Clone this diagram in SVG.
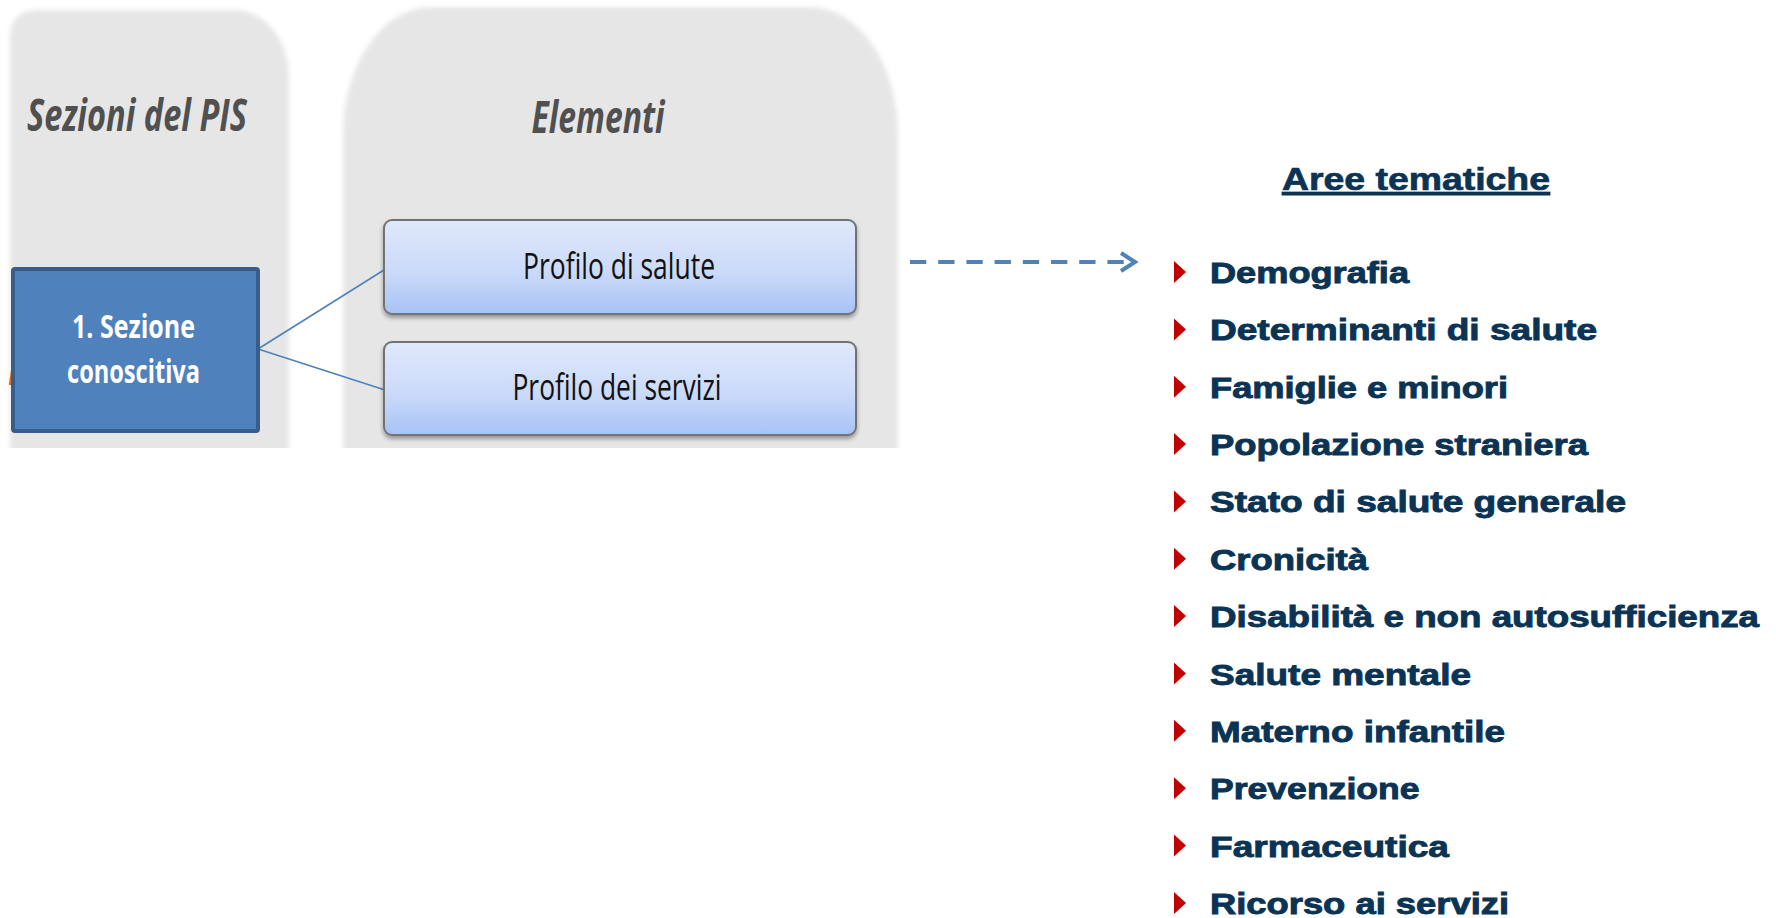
<svg xmlns="http://www.w3.org/2000/svg" xmlns:xlink="http://www.w3.org/1999/xlink" width="1776" height="918" viewBox="0 0 1776 918">
  <style>
    .col { fill: #E6E6E6; }
    .hdr { font-family: "Open Sans", "Liberation Sans", sans-serif; font-style: italic; font-weight: 700; font-size: 45px; fill: #505050; }
    .sez { font-family: "Open Sans", "Liberation Sans", sans-serif; font-weight: 700; font-size: 32px; fill: #FFFFFF; }
    .prof { font-family: "Open Sans", "Liberation Sans", sans-serif; font-weight: 400; font-size: 36px; fill: #111111; }
    .boxp { fill: url(#gradP); stroke: #737373; stroke-width: 2; }
    .link { fill: none; stroke: #4F81BD; stroke-width: 1.6; }
    .dash { fill: none; stroke: #4F81BD; stroke-width: 4; }
    .item { font-family: "Liberation Sans", Arial, sans-serif; font-weight: 700; font-size: 29.5px; fill: #0B3354; stroke: #0B3354; stroke-width: 0.9; }
    .title { font-family: "Liberation Sans", Arial, sans-serif; font-weight: 700; font-size: 31px; fill: #0B3354; stroke: #0B3354; stroke-width: 0.7; }
    .tri { fill: #C00000; }
  </style>
  <defs>
    <linearGradient id="gradP" x1="0" y1="0" x2="0" y2="1">
      <stop offset="0" stop-color="#E0E9FB"/>
      <stop offset="0.55" stop-color="#CBDAF9"/>
      <stop offset="1" stop-color="#A6C2F6"/>
    </linearGradient>
    <filter id="soft" x="-5%" y="-5%" width="110%" height="110%">
      <feGaussianBlur stdDeviation="2.5"/>
    </filter>
    <filter id="shadow" x="-5%" y="-10%" width="110%" height="130%">
      <feDropShadow dx="0" dy="3" stdDeviation="2" flood-color="#000000" flood-opacity="0.35"/>
    </filter>
    <clipPath id="colClip">
      <rect x="0" y="0" width="1000" height="448"/>
    </clipPath>
    <polygon id="tri" class="tri" points="0,-22 12,-11 0,0"/>
  </defs>

  <rect x="0" y="0" width="1776" height="918" fill="#FFFFFF"/>

  <g id="col-sezioni" clip-path="url(#colClip)">
    <path class="col" filter="url(#soft)" d="M10,460 V38 Q10,10 38,10 H235 A54,68 0 0 1 289,78 V460 Z"/>
    <text class="hdr" x="137" y="131" text-anchor="middle" textLength="220" lengthAdjust="spacingAndGlyphs">Sezioni del PIS</text>
  </g>

  <g id="col-elementi" clip-path="url(#colClip)">
    <path class="col" filter="url(#soft)" d="M343,460 V135 A88,128 0 0 1 431,7 H810 A88,128 0 0 1 898,135 V460 Z"/>
    <text class="hdr" x="598" y="133" text-anchor="middle" textLength="133" lengthAdjust="spacingAndGlyphs">Elementi</text>
  </g>

  <line x1="16" y1="345" x2="10" y2="385" stroke="#E46C0A" stroke-width="2.5"/>

  <g id="connectors">
    <line class="link" x1="258" y1="349" x2="384" y2="270"/>
    <line class="link" x1="258" y1="349" x2="385" y2="390"/>
    <line class="dash" x1="910" y1="262" x2="1124" y2="262" stroke-dasharray="16.3 11.9"/>
    <polyline class="dash" points="1121,253 1135,262 1121,271" stroke-linejoin="miter"/>
  </g>

  <g id="node-sezione">
    <rect x="13" y="269" width="245" height="162" rx="2" fill="#4F81BD" stroke="#385D8A" stroke-width="4"/>
    <text class="sez" x="133.5" y="338" text-anchor="middle" textLength="123" lengthAdjust="spacingAndGlyphs">1. Sezione</text>
    <text class="sez" x="133.5" y="383" text-anchor="middle" textLength="133" lengthAdjust="spacingAndGlyphs">conoscitiva</text>
  </g>

  <g id="node-profilo-salute">
    <rect class="boxp" filter="url(#shadow)" x="384" y="220" width="472" height="94" rx="8"/>
    <text class="prof" x="619" y="279" text-anchor="middle" textLength="192" lengthAdjust="spacingAndGlyphs">Profilo di salute</text>
  </g>

  <g id="node-profilo-servizi">
    <rect class="boxp" filter="url(#shadow)" x="384" y="342" width="472" height="93" rx="8"/>
    <text class="prof" x="617" y="400" text-anchor="middle" textLength="209" lengthAdjust="spacingAndGlyphs">Profilo dei servizi</text>
  </g>

  <g id="aree-tematiche">
    <text class="title" x="1282" y="190" textLength="268" lengthAdjust="spacingAndGlyphs" text-decoration="underline">Aree tematiche</text>
    <use xlink:href="#tri" x="1174" y="283"/>
    <text class="item" x="1210" y="283" textLength="199" lengthAdjust="spacingAndGlyphs">Demografia</text>
    <use xlink:href="#tri" x="1174" y="340.4"/>
    <text class="item" x="1210" y="340.4" textLength="387" lengthAdjust="spacingAndGlyphs">Determinanti di salute</text>
    <use xlink:href="#tri" x="1174" y="397.7"/>
    <text class="item" x="1210" y="397.7" textLength="298" lengthAdjust="spacingAndGlyphs">Famiglie e minori</text>
    <use xlink:href="#tri" x="1174" y="455.1"/>
    <text class="item" x="1210" y="455.1" textLength="378" lengthAdjust="spacingAndGlyphs">Popolazione straniera</text>
    <use xlink:href="#tri" x="1174" y="512.4"/>
    <text class="item" x="1210" y="512.4" textLength="416" lengthAdjust="spacingAndGlyphs">Stato di salute generale</text>
    <use xlink:href="#tri" x="1174" y="569.8"/>
    <text class="item" x="1210" y="569.8" textLength="158" lengthAdjust="spacingAndGlyphs">Cronicità</text>
    <use xlink:href="#tri" x="1174" y="627.1"/>
    <text class="item" x="1210" y="627.1" textLength="549" lengthAdjust="spacingAndGlyphs">Disabilità e non autosufficienza</text>
    <use xlink:href="#tri" x="1174" y="684.5"/>
    <text class="item" x="1210" y="684.5" textLength="261" lengthAdjust="spacingAndGlyphs">Salute mentale</text>
    <use xlink:href="#tri" x="1174" y="741.8"/>
    <text class="item" x="1210" y="741.8" textLength="295" lengthAdjust="spacingAndGlyphs">Materno infantile</text>
    <use xlink:href="#tri" x="1174" y="799.2"/>
    <text class="item" x="1210" y="799.2" textLength="209.5" lengthAdjust="spacingAndGlyphs">Prevenzione</text>
    <use xlink:href="#tri" x="1174" y="856.5"/>
    <text class="item" x="1210" y="856.5" textLength="239" lengthAdjust="spacingAndGlyphs">Farmaceutica</text>
    <use xlink:href="#tri" x="1174" y="913.9"/>
    <text class="item" x="1210" y="913.9" textLength="299" lengthAdjust="spacingAndGlyphs">Ricorso ai servizi</text>
  </g>
</svg>
